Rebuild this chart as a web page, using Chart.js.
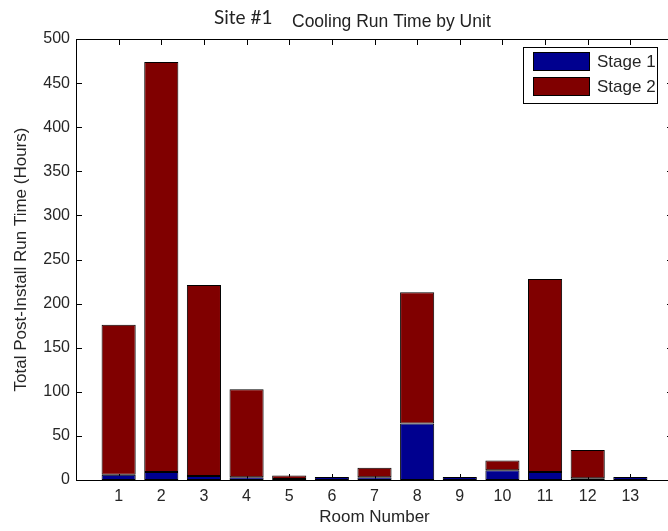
<!DOCTYPE html>
<html>
<head>
<meta charset="utf-8">
<script src="https://cdn.jsdelivr.net/npm/chart.js@4/dist/chart.umd.min.js"></script>
<style>
  html, body { margin: 0; padding: 0; background: #fff; overflow: hidden; }
  #wrap { width: 668px; height: 531px; overflow: hidden; }
</style>
</head>
<body>
<div id="wrap"><canvas id="runChart" width="680" height="531"></canvas></div>
<script>
// --- data ---
const rooms = [1, 2, 3, 4, 5, 6, 7, 8, 9, 10, 11, 12, 13];
const stage1 = [6, 9, 4.5, 3, 1, 3.5, 3, 64, 3.5, 11, 9, 2, 3.5];
const stage2 = [170, 465, 216.5, 100, 4, 0, 11, 149, 0, 11, 219, 32, 0];
const yTicks = [0, 50, 100, 150, 200, 250, 300, 350, 400, 450, 500];
const seriesNames = ["Stage 1", "Stage 2"];
const seriesColors = ["#00008f", "#800000"];

const textColor = "#262626";
const tickFont = { family: "'Liberation Sans', Arial, sans-serif", size: 16 };
const labelFont = { family: "'Liberation Sans', Arial, sans-serif", size: 17 };

// inward ticks (drawn under the bars) and the box round the axes
const frameTicks = {
    id: "frameTicks",
    beforeDatasetsDraw(chart) {
        const { ctx, chartArea: a, scales: { x, y } } = chart;
        ctx.save();
        ctx.strokeStyle = "#000";
        ctx.lineWidth = 1;
        ctx.beginPath();
        for (let v = 0; v <= 14; v++) {
            const px = Math.round(x.getPixelForValue(v)) + 0.5;
            ctx.moveTo(px, a.bottom); ctx.lineTo(px, a.bottom - 6);
            ctx.moveTo(px, a.top); ctx.lineTo(px, a.top + 6);
        }
        yTicks.forEach(v => {
            const py = Math.round(y.getPixelForValue(v)) + 0.5;
            ctx.moveTo(a.left, py); ctx.lineTo(a.left + 6, py);
            ctx.moveTo(a.right, py); ctx.lineTo(a.right - 6, py);
        });
        ctx.stroke();
        ctx.restore();
    },
    afterDatasetsDraw(chart) {
        const { ctx, chartArea: a } = chart;
        ctx.save();
        ctx.strokeStyle = "#000";
        ctx.lineWidth = 1;
        ctx.strokeRect(Math.round(a.left) + 0.5, Math.round(a.top) + 0.5,
                       Math.round(a.right - a.left), Math.round(a.bottom - a.top));
        ctx.restore();
    }
};

// two-part title above the axes
const titleText = {
    id: "titleText",
    afterDraw(chart) {
        const { ctx } = chart;
        ctx.save();
        ctx.fillStyle = "#222";
        ctx.textBaseline = "alphabetic";
        ctx.textAlign = "left";
        ctx.font = "19px Lato, 'Open Sans', sans-serif";
        ctx.fillText("Site #1", 214, 24);
        ctx.font = "17.5px 'Liberation Sans', Arial, sans-serif";
        ctx.fillText("Cooling Run Time by Unit", 292, 27);
        ctx.restore();
    }
};

// boxed legend in the top right corner
const boxLegend = {
    id: "boxLegend",
    afterDraw(chart) {
        const { ctx } = chart;
        ctx.save();
        ctx.fillStyle = "#fff";
        ctx.fillRect(523, 47, 134, 56);
        ctx.strokeStyle = "#000";
        ctx.lineWidth = 1;
        ctx.strokeRect(523.5, 47.5, 134, 56);
        ctx.font = "17px 'Liberation Sans', Arial, sans-serif";
        ctx.textBaseline = "middle";
        chart.data.datasets.forEach((ds, i) => {
            const top = 52 + i * 25;
            ctx.fillStyle = ds.backgroundColor;
            ctx.fillRect(533, top, 56, 18);
            ctx.strokeStyle = "#000";
            ctx.strokeRect(533.5, top + 0.5, 56, 18);
            ctx.fillStyle = textColor;
            ctx.fillText(ds.label, 597, top + 10);
        });
        ctx.restore();
    }
};

const ctx = document.getElementById("runChart").getContext("2d");
new Chart(ctx, {
    type: "bar",
    data: {
        datasets: [
            {
                label: seriesNames[0],
                data: rooms.map((r, i) => ({ x: r, y: stage1[i] })),
                backgroundColor: seriesColors[0],
                borderColor: "#000",
                borderWidth: 1,
                borderSkipped: false,
                barPercentage: 0.8,
                categoryPercentage: 1.0
            },
            {
                label: seriesNames[1],
                data: rooms.map((r, i) => ({ x: r, y: stage2[i] })),
                backgroundColor: seriesColors[1],
                borderColor: "#000",
                borderWidth: 1,
                borderSkipped: false,
                barPercentage: 0.8,
                categoryPercentage: 1.0
            }
        ]
    },
    options: {
        responsive: false,
        animation: false,
        layout: { padding: { top: 39, right: 7, left: 0, bottom: 0 } },
        plugins: {
            legend: { display: false },
            tooltip: { enabled: false },
            title: { display: false }
        },
        scales: {
            x: {
                type: "linear",
                offset: false,
                stacked: true,
                min: 0,
                max: 14,
                grid: { display: false, drawTicks: false, offset: false },
                border: { display: false },
                afterBuildTicks: axis => { axis.ticks = rooms.map(r => ({ value: r })); },
                afterFit: s => { s.height = 51; },
                ticks: { color: textColor, font: tickFont, padding: 7, autoSkip: false, maxRotation: 0 },
                title: { display: true, text: "Room Number", color: textColor, font: labelFont, padding: { top: 0, bottom: 3 } }
            },
            y: {
                stacked: true,
                min: 0,
                max: 500,
                grid: { display: false, drawTicks: false },
                border: { display: false },
                afterBuildTicks: axis => { axis.ticks = yTicks.map(v => ({ value: v })); },
                afterFit: s => { s.width = 76; },
                ticks: { color: textColor, font: tickFont, padding: 6 },
                title: { display: true, text: "Total Post-Install Run Time (Hours)", color: textColor, font: labelFont, padding: { top: 11, bottom: 0 } }
            }
        }
    },
    plugins: [frameTicks, titleText, boxLegend]
});
</script>
</body>
</html>
